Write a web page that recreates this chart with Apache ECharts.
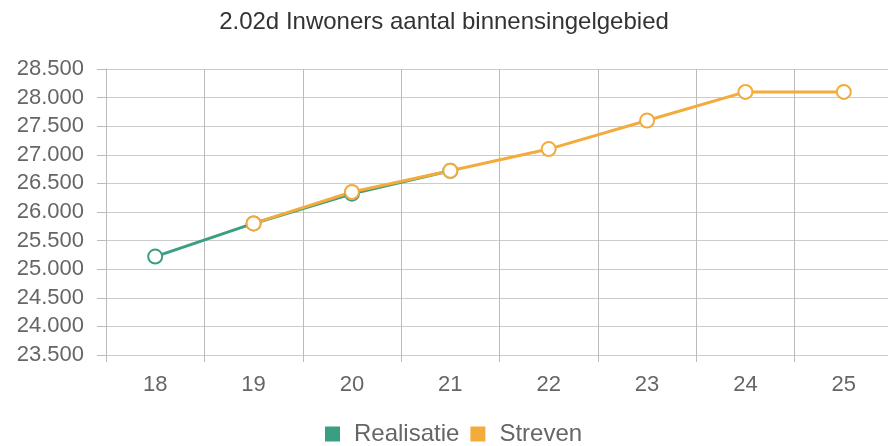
<!DOCTYPE html>
<html lang="nl" style="height: 100%">
<head>
  <meta charset="utf-8">
</head>
<body style="height: 100%; margin: 0; background: #fff">
  <div id="container" style="width: 888px; height: 446px"></div>
  <script type="text/javascript" src="https://cdn.jsdelivr.net/npm/echarts@6/dist/echarts.min.js"></script>
  <script type="text/javascript">
    var years = ['18', '19', '20', '21', '22', '23', '24', '25'];
    var realisatie = [25220, 25800, 26320, 26720, null, null, null, null];
    var streven = [null, 25800, 26350, 26720, 27100, 27600, 28100, 28100];

    var myChart = echarts.init(document.getElementById('container'), null, { renderer: 'canvas' });

    var fmt = function (v) {
      return String(v).replace(/(\d)(\d{3})$/, '$1.$2');
    };
    var lineSeries = function (name, data, color) {
      return {
        name: name,
        type: 'line',
        data: data,
        symbol: 'emptyCircle',
        symbolSize: 14,
        lineStyle: { color: color, width: 3 },
        itemStyle: { color: color, borderWidth: 3.5 },
        connectNulls: false
      };
    };

    var option = {
      animation: false,
      title: {
        text: '2.02d Inwoners aantal binnensingelgebied',
        left: 'center',
        top: 5,
        textStyle: { fontFamily: 'Liberation Sans', fontSize: 24, fontWeight: 'normal', color: '#333' }
      },
      legend: {
        top: 422,
        left: 325,
        padding: 0,
        itemWidth: 15,
        itemHeight: 15,
        itemGap: 11,
        icon: 'rect',
        textStyle: { fontFamily: 'Liberation Sans', fontSize: 24, color: '#666', padding: [0, 0, 0, 9] },
        data: ['Realisatie', 'Streven']
      },
      grid: { left: 106, width: 787, top: 69, bottom: 91, outerBoundsMode: 'none', containLabel: false },
      xAxis: {
        type: 'category',
        data: years,
        boundaryGap: true,
        axisLine: { show: false },
        axisTick: { show: true, length: 7, lineStyle: { color: '#bbb' } },
        splitLine: { show: true, lineStyle: { color: '#bbb' } },
        axisLabel: { fontFamily: 'Liberation Sans', fontSize: 22, color: '#666', margin: 19 }
      },
      yAxis: {
        type: 'value',
        min: 23500,
        max: 28500,
        interval: 500,
        axisLine: { show: true, lineStyle: { color: '#bbb' } },
        axisTick: { show: true, length: 9, lineStyle: { color: '#bbb' } },
        splitLine: { lineStyle: { color: '#ccc' } },
        axisLabel: { fontFamily: 'Liberation Sans', fontSize: 22, color: '#666', margin: 22, formatter: fmt }
      },
      series: [
        lineSeries('Realisatie', realisatie, '#3a9f82'),
        lineSeries('Streven', streven, '#f3ab3c')
      ]
    };
    myChart.setOption(option);
    window.addEventListener('resize', myChart.resize);
  </script>
</body>
</html>
